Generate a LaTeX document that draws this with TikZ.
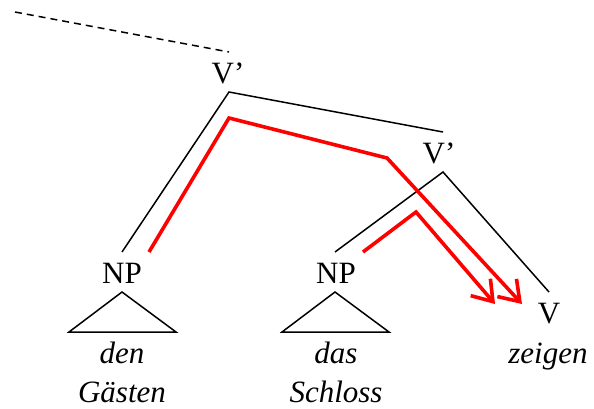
\documentclass[tikz,border=0pt]{standalone}
\usepackage{fontspec}
\setmainfont{Liberation Serif}
\usetikzlibrary{arrows.meta}
\definecolor{spur}{RGB}{255,0,0}

\begin{document}
\begin{tikzpicture}[x=1pt,y=-1pt,
  kat/.style={font=\fontsize{31}{36}\selectfont,anchor=base,inner sep=0pt},
  wort/.style={font=\fontsize{31}{36}\selectfont\itshape,anchor=base,inner sep=0pt},
  ast/.style={line width=1.5pt},
  bewegung/.style={draw=spur,line width=3.6pt,line join=miter,
    -{Straight Barb[length=19pt,width=26pt,line width=3.6pt]}}]
  \useasboundingbox (0,0) rectangle (594,408);

  % labels
  \node[kat] (vtop) at (228,83) {V’};
  \node[kat] (vmid) at (439,163) {V’};
  \node[kat] (npa) at (122,283) {NP};
  \node[kat] (npb) at (336,283) {NP};
  \node[kat] (verb) at (549,323) {V};
  \node[wort] (den) at (122,363) {den};
  \node[wort] (gaesten) at (122,402) {Gästen};
  \node[wort] (das) at (336,363) {das};
  \node[wort] (schloss) at (336,402) {Schloss};
  \node[wort] (zeigen) at (548,363) {zeigen};

  % branch points
  \coordinate (topk) at (229,92);
  \coordinate (topl) at (122,252);
  \coordinate (topr) at (443,132);
  \coordinate (midk) at (443,172);
  \coordinate (midl) at (335,252);
  \coordinate (midr) at (549,292);
  \coordinate (oben) at (15,12);
  \coordinate (obenk) at (229,52);

  \draw[ast,dash pattern=on 7pt off 5pt] (oben) -- (obenk);
  \draw[ast] (topl) -- (topk) -- (topr);
  \draw[ast] (midl) -- (midk) -- (midr);

  % triangles
  \draw[ast,line join=miter] (122,292) -- (69,332) -- (176,332) -- cycle;
  \draw[ast,line join=miter] (335,292) -- (282,332) -- (389,332) -- cycle;

  % movement
  \coordinate (sa) at (149,252);
  \coordinate (sb) at (229,118);
  \coordinate (sc) at (387,158);
  \coordinate (sd) at (522,304);
  \coordinate (ta) at (363,252);
  \coordinate (tb) at (416,212);
  \coordinate (tc) at (495,304);
  \draw[bewegung] (sa) -- (sb) -- (sc) -- (sd);
  \draw[bewegung] (ta) -- (tb) -- (tc);
\end{tikzpicture}
\end{document}
